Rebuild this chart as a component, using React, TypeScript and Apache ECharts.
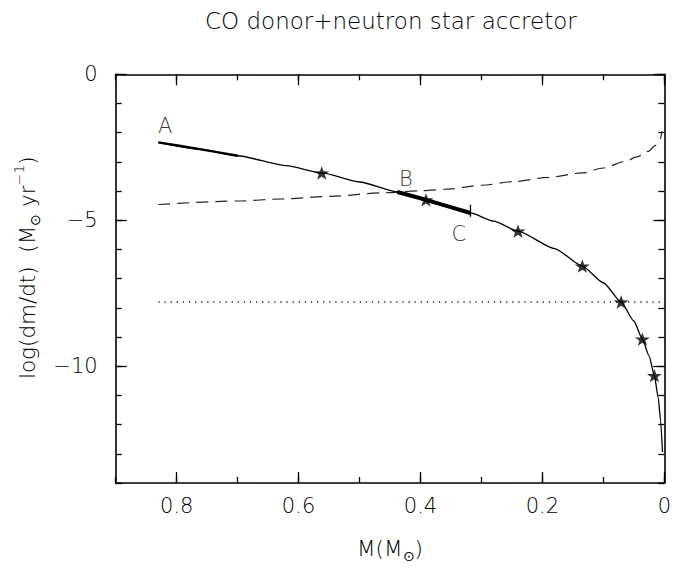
import React, { useEffect, useRef } from "react";
import * as echarts from "echarts";

// ---- data ----
const solidM = [0.83, 0.76, 0.70, 0.62, 0.562, 0.50, 0.438, 0.391, 0.318, 0.28, 0.24, 0.18, 0.1345, 0.10, 0.0708, 0.05, 0.036, 0.025, 0.0163, 0.010, 0.006, 0.003];
const solidLog = [-2.33, -2.57, -2.79, -3.13, -3.38, -3.69, -4.03, -4.30, -4.75, -5.03, -5.37, -5.97, -6.57, -7.14, -7.80, -8.45, -9.07, -9.65, -10.32, -11.08, -11.88, -12.94];

const thickAM = [0.83, 0.76, 0.70];
const thickALog = [-2.33, -2.57, -2.79];

const thickBCM = [0.438, 0.391, 0.318];
const thickBCLog = [-4.03, -4.30, -4.75];

const cTickM = [0.318, 0.318];
const cTickLog = [-4.47, -4.88];

const dashM = [0.83, 0.70, 0.626, 0.547, 0.463, 0.40, 0.353, 0.30, 0.244, 0.19, 0.135, 0.10, 0.064, 0.045, 0.026, 0.015, 0.007, 0.004];
const dashLog = [-4.46, -4.34, -4.27, -4.18, -4.06, -3.99, -3.93, -3.80, -3.67, -3.53, -3.38, -3.21, -2.98, -2.83, -2.64, -2.44, -2.22, -1.96];

const dotM = [0.83, 0];
const dotLog = [-7.8, -7.8];

const starM = [0.562, 0.391, 0.240, 0.1345, 0.0708, 0.036, 0.0163];
const starLog = [-3.38, -4.30, -5.37, -6.57, -7.80, -9.07, -10.32];

const labelNames = ["A", "B", "C"];
const labelM = [0.819, 0.424, 0.337];
const labelLog = [-1.76, -3.58, -5.47];

const xMajor = [0, 0.2, 0.4, 0.6, 0.8];
const yMajor = [-10, -5, 0];

const titleText = "CO donor+neutron star accretor";

const FONT = '"DejaVu Sans", sans-serif';
const W = 674;
const H = 568;
const GRID = { left: 115.7, right: 8, top: 74.3, bottom: 84.3 };

const zip = (a: number[], b: number[]) => a.map((v, i) => [v, b[i]]);

const STAR =
  "path://M0,-10 L2.35,-3.24 L9.51,-3.09 L3.8,1.24 L5.88,8.09 L0,4 L-5.88,8.09 L-3.8,1.24 L-9.51,-3.09 L-2.35,-3.24 Z";

export default function App() {
  const ref = useRef<HTMLDivElement>(null);

  useEffect(() => {
    if (!ref.current) return;
    const chart = echarts.init(ref.current, undefined, { renderer: "svg" });

    const textBase = { fontFamily: FONT, fontSize: 21, color: "#000", fontWeight: 200 as any };
    const axisLine = { show: true, onZero: false, lineStyle: { color: "#000", width: 1.6 } };
    const tickStyle = { color: "#000", width: 1.3 };

    const xBase = { type: "value", min: 0, max: 0.9, inverse: true, splitLine: { show: false } };
    const yBase = { type: "value", min: -14, max: 0, splitLine: { show: false } };

    const rich = {
      a: { fontFamily: FONT, fontSize: 21.5, fontWeight: 200, color: "#000", lineHeight: 30, verticalAlign: "middle" },
      s: { fontFamily: FONT, fontSize: 14, fontWeight: 200, color: "#000", lineHeight: 14, verticalAlign: "bottom" },
      p: { fontFamily: FONT, fontSize: 14, fontWeight: 200, color: "#000", lineHeight: 14, verticalAlign: "top" },
    };

    const option: any = {
      animation: false,
      backgroundColor: "#fff",
      grid: { ...GRID, containLabel: false },
      graphic: [
        {
          type: "text",
          x: GRID.left + (W - GRID.left - GRID.right) / 2,
          y: 21,
          style: {
            text: titleText,
            fontFamily: FONT,
            fontSize: 23,
            fontWeight: 200,
            fill: "#000",
            align: "center",
            verticalAlign: "middle",
          },
        },
      ],
      xAxis: [
        {
          ...xBase,
          position: "bottom",
          interval: 0.2,
          axisLine,
          axisTick: { show: true, inside: true, length: 11, lineStyle: tickStyle, customValues: xMajor },
          axisLabel: {
            ...textBase,
            margin: 12,
            customValues: xMajor,
            formatter: (v: number) => String(Number(v.toFixed(1))),
          },
          name: "{a|M(M}{s|⊙}{a|)}",
          nameLocation: "middle",
          nameGap: 50,
          nameTextStyle: { ...textBase, rich },
        },
        {
          ...xBase,
          position: "bottom",
          interval: 0.1,
          axisLine: { show: false, onZero: false },
          axisTick: { show: true, inside: true, length: 6, lineStyle: tickStyle },
          axisLabel: { show: false },
        },
        {
          ...xBase,
          position: "top",
          interval: 0.2,
          axisLine,
          axisTick: { show: true, inside: true, length: 11, lineStyle: tickStyle, customValues: xMajor },
          axisLabel: { show: false },
        },
        {
          ...xBase,
          position: "top",
          interval: 0.1,
          axisLine: { show: false, onZero: false },
          axisTick: { show: true, inside: true, length: 6, lineStyle: tickStyle },
          axisLabel: { show: false },
        },
      ],
      yAxis: [
        {
          ...yBase,
          position: "left",
          interval: 1,
          axisLine,
          axisTick: { show: true, inside: true, length: 11, lineStyle: tickStyle, customValues: yMajor },
          axisLabel: {
            ...textBase,
            margin: 18,
            customValues: yMajor,
            formatter: (v: number) => (v < 0 ? "\u2212" + Math.abs(v) : String(v)),
          },
          name: "{a|log(dm/dt)  (M}{s|⊙}{a| yr}{p|\u22121}{a|)}",
          nameLocation: "middle",
          nameRotate: 90,
          nameGap: 66,
          nameTextStyle: { ...textBase, rich, padding: [0, 0, 0, 22] },
        },
        {
          ...yBase,
          position: "left",
          interval: 1,
          axisLine: { show: false, onZero: false },
          axisTick: { show: true, inside: true, length: 6, lineStyle: tickStyle },
          axisLabel: { show: false },
        },
        {
          ...yBase,
          position: "right",
          interval: 1,
          axisLine,
          axisTick: { show: true, inside: true, length: 11, lineStyle: tickStyle, customValues: yMajor },
          axisLabel: { show: false },
        },
        {
          ...yBase,
          position: "right",
          interval: 1,
          axisLine: { show: false, onZero: false },
          axisTick: { show: true, inside: true, length: 6, lineStyle: tickStyle },
          axisLabel: { show: false },
        },
      ],
      series: [
        {
          type: "line",
          data: zip(solidM, solidLog),
          symbol: "none",
          smooth: 0.2,
          smoothMonotone: "x",
          lineStyle: { color: "#000", width: 1.3 },
          z: 3,
        },
        {
          type: "line",
          data: zip(thickAM, thickALog),
          symbol: "none",
          smooth: 0.2,
          lineStyle: { color: "#000", width: 2.4 },
          z: 3,
        },
        {
          type: "line",
          data: zip(thickBCM, thickBCLog),
          symbol: "none",
          smooth: 0.2,
          lineStyle: { color: "#000", width: 4 },
          z: 3,
        },
        {
          type: "line",
          data: zip(cTickM, cTickLog),
          symbol: "none",
          lineStyle: { color: "#000", width: 1.3 },
          z: 3,
        },
        {
          type: "line",
          data: zip(dashM, dashLog),
          symbol: "none",
          smooth: 0.3,
          smoothMonotone: "x",
          lineStyle: { color: "#222", width: 1.2, type: [12, 7] },
          z: 2,
        },
        {
          type: "line",
          data: zip(dotM, dotLog),
          symbol: "none",
          lineStyle: { color: "#222", width: 1.3, type: [1.3, 4.8] },
          z: 2,
        },
        {
          type: "scatter",
          data: zip(starM, starLog),
          symbol: STAR,
          symbolSize: [15, 14],
          symbolKeepAspect: true,
          itemStyle: { color: "#000" },
          z: 4,
        },
        {
          type: "scatter",
          data: labelNames.map((n, i) => ({ name: n, value: [labelM[i], labelLog[i]] })),
          symbolSize: 0,
          label: {
            show: true,
            position: "inside",
            formatter: (p: any) => p.name,
            fontFamily: FONT,
            fontSize: 21,
            fontWeight: 200,
            color: "#000",
            align: "center",
            verticalAlign: "middle",
          },
          z: 5,
        },
      ],
    };

    chart.setOption(option);
    return () => chart.dispose();
  }, []);

  return (
    <div
      ref={ref}
      style={{ position: "fixed", left: 0, top: 0, width: W, height: H, background: "#fff" }}
    />
  );
}
